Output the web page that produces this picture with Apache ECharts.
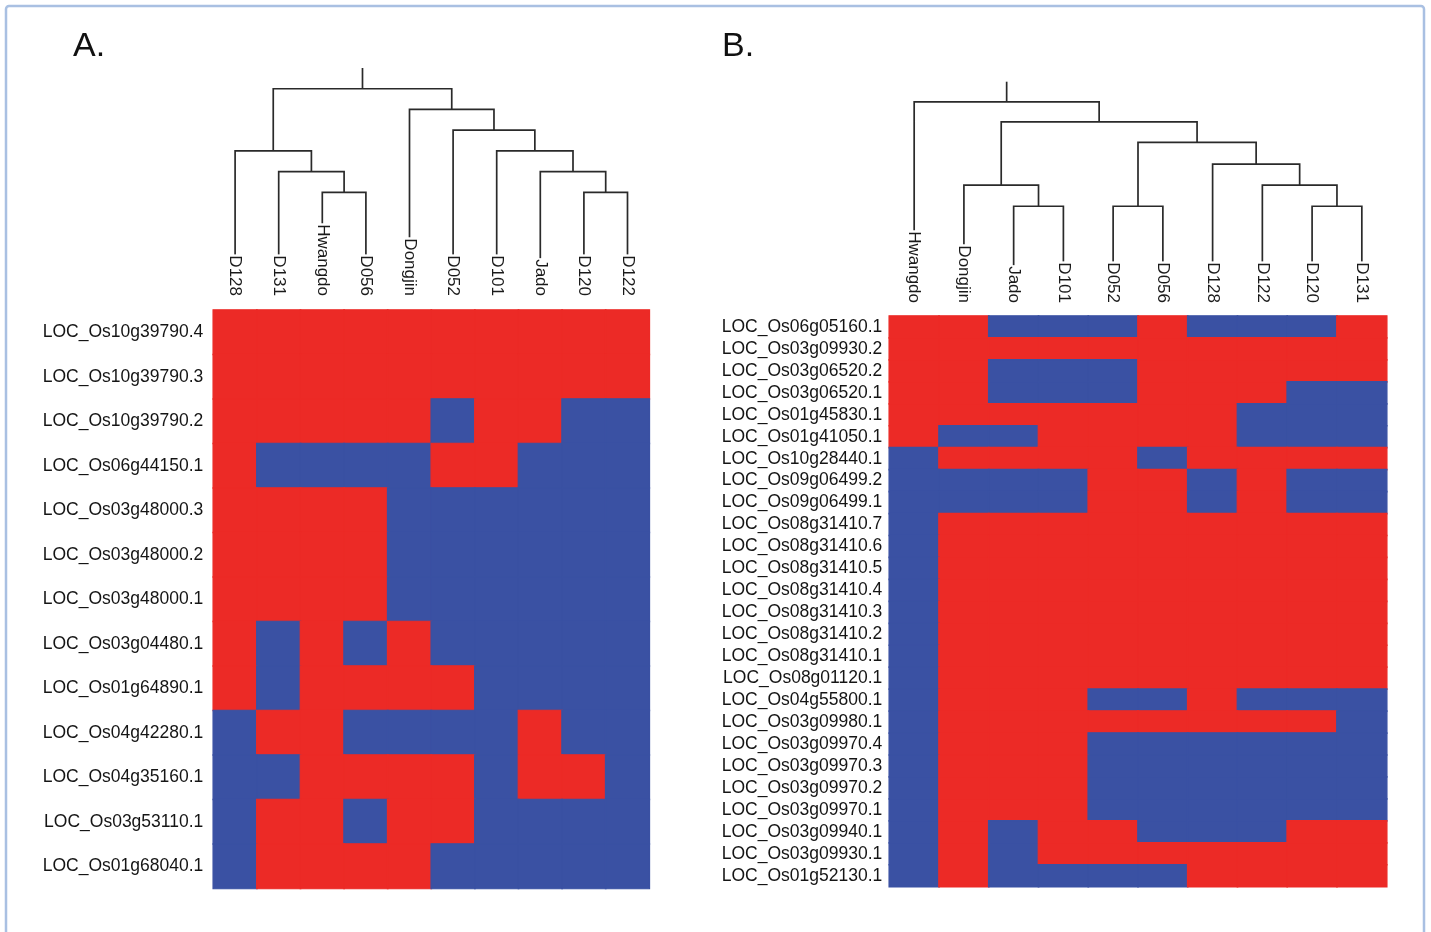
<!DOCTYPE html>
<html>
<head>
<meta charset="utf-8">
<script src="https://cdn.jsdelivr.net/npm/echarts@6/dist/echarts.min.js"></script>
<style>
html,body{margin:0;padding:0;background:#fff;}
#chart{width:1431px;height:932px;}
</style>
</head>
<body>
<div id="chart"></div>
<script>
// ---------- Panel A data ----------
const colsA = ['D128','D131','Hwangdo','D056','Dongjin','D052','D101','Jado','D120','D122'];
const rowsA = ['LOC_Os10g39790.4','LOC_Os10g39790.3','LOC_Os10g39790.2','LOC_Os06g44150.1',
  'LOC_Os03g48000.3','LOC_Os03g48000.2','LOC_Os03g48000.1','LOC_Os03g04480.1','LOC_Os01g64890.1',
  'LOC_Os04g42280.1','LOC_Os04g35160.1','LOC_Os03g53110.1','LOC_Os01g68040.1'];
// 1 = red, 0 = blue
const valuesA = [
  [1,1,1,1,1,1,1,1,1,1],
  [1,1,1,1,1,1,1,1,1,1],
  [1,1,1,1,1,0,1,1,0,0],
  [1,0,0,0,0,1,1,0,0,0],
  [1,1,1,1,0,0,0,0,0,0],
  [1,1,1,1,0,0,0,0,0,0],
  [1,1,1,1,0,0,0,0,0,0],
  [1,0,1,0,1,0,0,0,0,0],
  [1,0,1,1,1,1,0,0,0,0],
  [0,1,1,0,0,0,0,1,0,0],
  [0,0,1,1,1,1,0,1,1,0],
  [0,1,1,0,1,1,0,0,0,0],
  [0,1,1,1,1,0,0,0,0,0]
];
// merges: [childA, childB, height]; child = leaf name or index of earlier merge
const mergesA = [['Hwangdo','D056',5],['D131',0,6],['D128',1,7],['D120','D122',5],['Jado',3,6],
  ['D101',4,7],['D052',5,8],['Dongjin',6,9],[2,7,10]];
const stemA = 11;

// ---------- Panel B data ----------
const colsB = ['Hwangdo','Dongjin','Jado','D101','D052','D056','D128','D122','D120','D131'];
const rowsB = ['LOC_Os06g05160.1','LOC_Os03g09930.2','LOC_Os03g06520.2','LOC_Os03g06520.1',
  'LOC_Os01g45830.1','LOC_Os01g41050.1','LOC_Os10g28440.1','LOC_Os09g06499.2','LOC_Os09g06499.1',
  'LOC_Os08g31410.7','LOC_Os08g31410.6','LOC_Os08g31410.5','LOC_Os08g31410.4','LOC_Os08g31410.3',
  'LOC_Os08g31410.2','LOC_Os08g31410.1','LOC_Os08g01120.1','LOC_Os04g55800.1','LOC_Os03g09980.1',
  'LOC_Os03g09970.4','LOC_Os03g09970.3','LOC_Os03g09970.2','LOC_Os03g09970.1','LOC_Os03g09940.1',
  'LOC_Os03g09930.1','LOC_Os01g52130.1'];
const valuesB = [
  [1,1,0,0,0,1,0,0,0,1],
  [1,1,1,1,1,1,1,1,1,1],
  [1,1,0,0,0,1,1,1,1,1],
  [1,1,0,0,0,1,1,1,0,0],
  [1,1,1,1,1,1,1,0,0,0],
  [1,0,0,1,1,1,1,0,0,0],
  [0,1,1,1,1,0,1,1,1,1],
  [0,0,0,0,1,1,0,1,0,0],
  [0,0,0,0,1,1,0,1,0,0],
  [0,1,1,1,1,1,1,1,1,1],
  [0,1,1,1,1,1,1,1,1,1],
  [0,1,1,1,1,1,1,1,1,1],
  [0,1,1,1,1,1,1,1,1,1],
  [0,1,1,1,1,1,1,1,1,1],
  [0,1,1,1,1,1,1,1,1,1],
  [0,1,1,1,1,1,1,1,1,1],
  [0,1,1,1,1,1,1,1,1,1],
  [0,1,1,1,0,0,1,0,0,0],
  [0,1,1,1,1,1,1,1,1,0],
  [0,1,1,1,0,0,0,0,0,0],
  [0,1,1,1,0,0,0,0,0,0],
  [0,1,1,1,0,0,0,0,0,0],
  [0,1,1,1,0,0,0,0,0,0],
  [0,1,0,1,1,0,0,0,1,1],
  [0,1,0,1,1,1,1,1,1,1],
  [0,1,0,0,0,0,1,1,1,1]
];
const mergesB = [['Jado','D101',4.7],['Dongjin',0,5.73],['D052','D056',4.7],['D120','D131',4.7],
  ['D122',3,5.73],['D128',4,6.75],[2,5,7.8],[1,6,8.8],['Hwangdo',7,9.77]];
const stemB = 10.75;

const RED = '#EC2A26', BLUE = '#3A51A3';
const FONT = '"Liberation Sans", Arial, sans-serif';

// build dendrogram polylines from merge table
function dendroSegments(leaves, merges, stem) {
  const nodes = [];
  const pos = c => typeof c === 'string' ? {x: leaves.indexOf(c), h: 0} : nodes[c];
  const segs = [];
  merges.forEach(m => {
    const a = pos(m[0]), b = pos(m[1]);
    const l = a.x < b.x ? a : b, r = a.x < b.x ? b : a;
    segs.push([l.x, l.h, l.x, m[2], r.x, m[2], r.x, r.h]);
    nodes.push({x: (a.x + b.x) / 2, h: m[2]});
  });
  const root = nodes[nodes.length - 1];
  segs.push([root.x, root.h, root.x, stem, root.x, stem, root.x, stem]);
  return segs;
}
function heatData(vals) {
  const d = [];
  vals.forEach((row, r) => row.forEach((v, c) => {
    const col = v ? RED : BLUE;
    d.push({value: [c, r, v], itemStyle: {color: col, borderColor: col, borderWidth: 1.2}});
  }));
  return d;
}
function lineRender(params, api) {
  const pts = [];
  for (let i = 0; i < 4; i++) pts.push(api.coord([api.value(2 * i), api.value(2 * i + 1)]));
  return {type: 'polyline', shape: {points: pts},
    style: {stroke: '#2a2a2a', lineWidth: 1.7, fill: null}};
}
function labelRender(names) {
  return function (params, api) {
    const p = api.coord([api.value(0), api.value(1)]);
    return {type: 'text', x: p[0], y: p[1], rotation: -Math.PI / 2, z2: 10,
      style: {text: names[params.dataIndex], align: 'right', verticalAlign: 'middle',
        font: '17px ' + FONT, fill: '#1a1a1a', backgroundColor: '#fff', padding: [1, 0, 1, 1]}};
  };
}

const chart = echarts.init(document.getElementById('chart'), null, {renderer: 'canvas'});
const gA = {left: 213.3, width: 436};
const gB = {left: 889.3, width: 497.4};
const rowLabel = {fontSize: 17.5, color: '#151515', fontFamily: FONT, interval: 0};
chart.setOption({
  animation: false,
  backgroundColor: '#fff',
  title: [
    {text: 'A.', left: 68, top: 25, textStyle: {fontSize: 34, fontWeight: 'normal', color: '#111', fontFamily: FONT}},
    {text: 'B.', left: 717, top: 25, textStyle: {fontSize: 34, fontWeight: 'normal', color: '#111', fontFamily: FONT}}
  ],
  graphic: [{type: 'rect', shape: {x: 6, y: 6, width: 1418, height: 1000, r: 3},
    style: {fill: 'none', stroke: '#A9C0E2', lineWidth: 2.5}, silent: true}],
  grid: [
    {left: gA.left, width: gA.width, top: 68, height: 228},
    {left: gA.left, width: gA.width, top: 310, height: 578.5},
    {left: gB.left, width: gB.width, top: 81.7, height: 221.3},
    {left: gB.left, width: gB.width, top: 316, height: 570.7}
  ],
  xAxis: [
    {gridIndex: 0, type: 'value', min: -0.5, max: 9.5, show: false},
    {gridIndex: 1, type: 'category', data: colsA, show: false},
    {gridIndex: 2, type: 'value', min: -0.5, max: 9.5, show: false},
    {gridIndex: 3, type: 'category', data: colsB, show: false}
  ],
  yAxis: [
    {gridIndex: 0, type: 'value', min: 0, max: stemA, show: false},
    {gridIndex: 1, type: 'category', data: rowsA, inverse: true,
      axisLine: {show: false}, axisTick: {show: false}, splitLine: {show: false},
      axisLabel: Object.assign({margin: 10}, rowLabel)},
    {gridIndex: 2, type: 'value', min: 0, max: stemB, show: false},
    {gridIndex: 3, type: 'category', data: rowsB, inverse: true,
      axisLine: {show: false}, axisTick: {show: false}, splitLine: {show: false},
      axisLabel: Object.assign({margin: 7}, rowLabel)}
  ],
  series: [
    {type: 'custom', xAxisIndex: 0, yAxisIndex: 0, renderItem: lineRender,
      data: dendroSegments(colsA, mergesA, stemA), silent: true},
    {type: 'custom', xAxisIndex: 0, yAxisIndex: 0, renderItem: labelRender(colsA), z: 5,
      data: colsA.map((c, i) => [i, 0]), silent: true},
    {type: 'heatmap', xAxisIndex: 1, yAxisIndex: 1, data: heatData(valuesA),
      emphasis: {disabled: true}},
    {type: 'custom', xAxisIndex: 2, yAxisIndex: 2, renderItem: lineRender,
      data: dendroSegments(colsB, mergesB, stemB), silent: true},
    {type: 'custom', xAxisIndex: 2, yAxisIndex: 2, renderItem: labelRender(colsB), z: 5,
      data: colsB.map((c, i) => [i, 0]), silent: true},
    {type: 'heatmap', xAxisIndex: 3, yAxisIndex: 3, data: heatData(valuesB),
      emphasis: {disabled: true}}
  ]
});
</script>
</body>
</html>
